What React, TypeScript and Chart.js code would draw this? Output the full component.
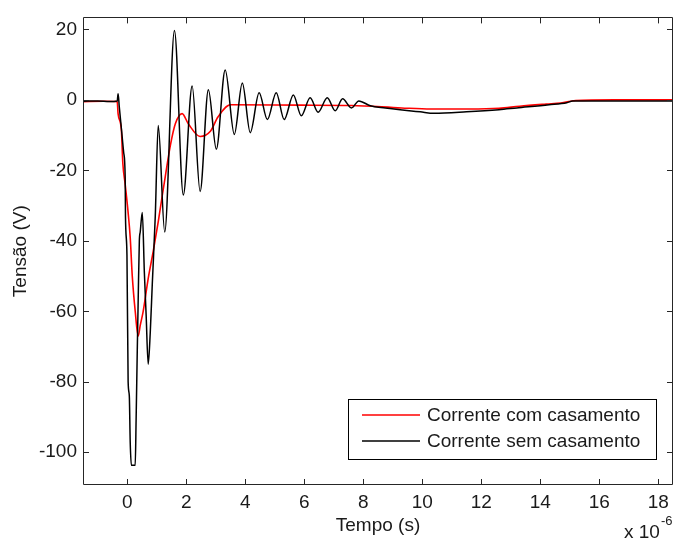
import React, { useEffect, useRef } from 'react';
import { Chart, registerables } from 'chart.js';

Chart.register(...registerables);

// Time in microseconds (axis shows x 10^-6), voltage in volts
const BLACK_X = [
  -1.5, -1.0, -0.6, -0.34, -0.31, -0.27, -0.2, -0.12, -0.07, -0.06, -0.01, 0.03, 0.07, 0.1, 0.14, 0.27,
  0.3, 0.34, 0.37, 0.41, 0.44, 0.51, 0.58, 0.64, 0.71, 0.78, 0.85, 0.95, 1.05, 1.27, 1.6, 1.9, 2.2,
  2.47, 2.75, 3.02, 3.32, 3.63, 3.9, 4.17, 4.47, 4.75, 5.05, 5.32, 5.63, 5.9, 6.2, 6.47, 6.78, 7.05,
  7.3, 7.6, 7.85, 8.24, 8.75, 9.25, 9.93, 10.4, 11.5, 12.6, 13.2, 14.3, 14.9, 15.1, 16.5, 18.5,
];
const BLACK_Y = [
  -0.4, -0.3, -0.5, -0.3, 1.7, -2, -8, -15, -22, -33, -44, -80, -84, -97, -103.7, -103.7,
  -91, -71, -57, -40, -37.5, -32, -49, -61, -75, -66, -52, -33, -7.3, -37.5, 19.7, -27, 3.9,
  -26, 2.9, -14, 8.5, -9.8, 4.8, -9.3, 2, -5.6, 2, -5.6, 1.4, -4.5, 0.6, -3.5, 0.6, -3.1,
  0.3, -2.3, -0.3, -1.7, -2.3, -2.8, -3.4, -3.8, -3.4, -2.8, -2.3, -1.4, -0.8, -0.3, -0.3, -0.3,
];

const RED_X = [
  -1.5, -0.8, -0.34, -0.31, -0.2, -0.15, -0.07, 0.03, 0.1, 0.17, 0.27, 0.37, 0.44, 0.54,
  0.71, 0.88, 1.05, 1.19, 1.29, 1.46, 1.63, 1.86, 2.07, 2.47, 2.81, 3.08, 3.5, 5.9, 7.6, 9.3,
  10.3, 11.6, 12.6, 13.3, 14.2, 14.7, 15.2, 16.5, 18.5,
];
const RED_Y = [
  -0.5, -0.4, -0.5, -4, -8.5, -18, -24, -32, -39, -50, -60, -67, -64, -60,
  -50.7, -43, -34.6, -27, -21.7, -13, -6.8, -3.9, -6.8, -10.4, -9, -4.8, -1.4, -1.5, -1.6, -2.3,
  -2.6, -2.6, -2.4, -1.8, -1.2, -0.9, -0.2, 0, 0,
];

const SERIES_LABELS = ['Corrente com casamento', 'Corrente sem casamento'];
const SERIES_COLORS = ['#ff0000', '#000000'];
const X_TICKS = [0, 2, 4, 6, 8, 10, 12, 14, 16, 18];
const Y_TICKS = [-100, -80, -60, -40, -20, 0, 20];
const X_TITLE = 'Tempo (s)';
const Y_TITLE = 'Tensão (V)';
const X_EXP_BASE = 'x 10';
const X_EXP = '-6';
const X_MIN = -1.5;
const X_MAX = 18.5;
const Y_MIN = -109.3;
const Y_MAX = 23.4;

const FONT = '"Liberation Sans", Arial, Helvetica, sans-serif';
const FS = 19;
const INK = '#1a1a1a';

const matlabPlugin = {
  id: 'matlabFrame',
  afterDatasetsDraw(chart: any) {
    const { ctx, chartArea } = chart;
    const { left, right, top, bottom } = chartArea;
    const xs = chart.scales.x;
    const ys = chart.scales.y;
    const TL = 6;
    ctx.save();
    ctx.strokeStyle = '#262626';
    ctx.lineWidth = 1;
    ctx.beginPath();
    ctx.rect(Math.round(left) + 0.5, Math.round(top) + 0.5, Math.round(right - left) - 1, Math.round(bottom - top) - 1);
    ctx.stroke();
    ctx.beginPath();
    X_TICKS.forEach((v) => {
      const px = Math.round(xs.getPixelForValue(v)) + 0.5;
      ctx.moveTo(px, bottom);
      ctx.lineTo(px, bottom - TL);
      ctx.moveTo(px, top);
      ctx.lineTo(px, top + TL);
    });
    Y_TICKS.forEach((v) => {
      const py = Math.round(ys.getPixelForValue(v)) + 0.5;
      ctx.moveTo(left, py);
      ctx.lineTo(left + TL, py);
      ctx.moveTo(right, py);
      ctx.lineTo(right - TL, py);
    });
    ctx.stroke();

    // legend box
    const lx = 348, ly = 399, lw = 308, lh = 60;
    ctx.fillStyle = '#ffffff';
    ctx.fillRect(lx, ly, lw, lh);
    ctx.strokeStyle = '#000000';
    ctx.strokeRect(lx + 0.5, ly + 0.5, lw, lh);
    ctx.font = `${FS}px ${FONT}`;
    ctx.textBaseline = 'middle';
    ctx.textAlign = 'left';
    SERIES_LABELS.forEach((lab, i) => {
      const yy = 415 + i * 26;
      ctx.strokeStyle = SERIES_COLORS[i];
      ctx.lineWidth = 1.5;
      ctx.beginPath();
      ctx.moveTo(362, yy);
      ctx.lineTo(420, yy);
      ctx.stroke();
      ctx.fillStyle = INK;
      ctx.fillText(lab, 427, yy + 1);
    });

    // axis titles
    ctx.fillStyle = INK;
    ctx.textAlign = 'center';
    ctx.textBaseline = 'alphabetic';
    ctx.fillText(X_TITLE, (left + right) / 2, 531);
    ctx.save();
    ctx.translate(26, (top + bottom) / 2);
    ctx.rotate(-Math.PI / 2);
    ctx.fillText(Y_TITLE, 0, 0);
    ctx.restore();
    // exponent
    ctx.textAlign = 'left';
    ctx.fillText(X_EXP_BASE, 624, 538);
    ctx.font = `${13}px ${FONT}`;
    ctx.fillText(X_EXP, 661, 525);
    ctx.restore();
  },
};

export default function App() {
  const ref = useRef<HTMLCanvasElement>(null);
  useEffect(() => {
    if (!ref.current) return;
    const chart = new Chart(ref.current, {
      type: 'line',
      data: {
        datasets: [
          {
            label: SERIES_LABELS[0],
            data: RED_X.map((x, i) => ({ x, y: RED_Y[i] })),
            borderColor: SERIES_COLORS[0],
            borderWidth: 1.6,
            pointRadius: 0,
            cubicInterpolationMode: 'monotone',
            order: 2,
          },
          {
            label: SERIES_LABELS[1],
            data: BLACK_X.map((x, i) => ({ x, y: BLACK_Y[i] })),
            borderColor: SERIES_COLORS[1],
            borderWidth: 1.5,
            pointRadius: 0,
            cubicInterpolationMode: 'monotone',
            order: 1,
          },
        ],
      },
      options: {
        responsive: false,
        animation: false,
        events: [],
        layout: { padding: { top: 14, right: 2, left: 0, bottom: 0 } },
        plugins: { legend: { display: false }, tooltip: { enabled: false } },
        scales: {
          x: {
            type: 'linear',
            min: X_MIN,
            max: X_MAX,
            grid: { display: false, drawTicks: false },
            border: { display: false },
            afterBuildTicks: (s: any) => { s.ticks = X_TICKS.map((v) => ({ value: v })); },
            afterFit: (s: any) => { s.height = 53; },
            ticks: { color: INK, font: { family: FONT, size: FS }, padding: 6, maxRotation: 0, autoSkip: false },
          },
          y: {
            type: 'linear',
            min: Y_MIN,
            max: Y_MAX,
            grid: { display: false, drawTicks: false },
            border: { display: false },
            afterBuildTicks: (s: any) => { s.ticks = Y_TICKS.map((v) => ({ value: v })); },
            afterFit: (s: any) => { s.width = 83; },
            ticks: { color: INK, font: { family: FONT, size: FS }, padding: 6, autoSkip: false },
          },
        },
      },
      plugins: [matlabPlugin],
    });
    return () => chart.destroy();
  }, []);
  return (
    <div style={{ position: 'absolute', left: 0, top: 0, width: 675, height: 538, background: '#fff' }}>
      <canvas ref={ref} width={675} height={538} style={{ display: 'block' }} />
    </div>
  );
}
